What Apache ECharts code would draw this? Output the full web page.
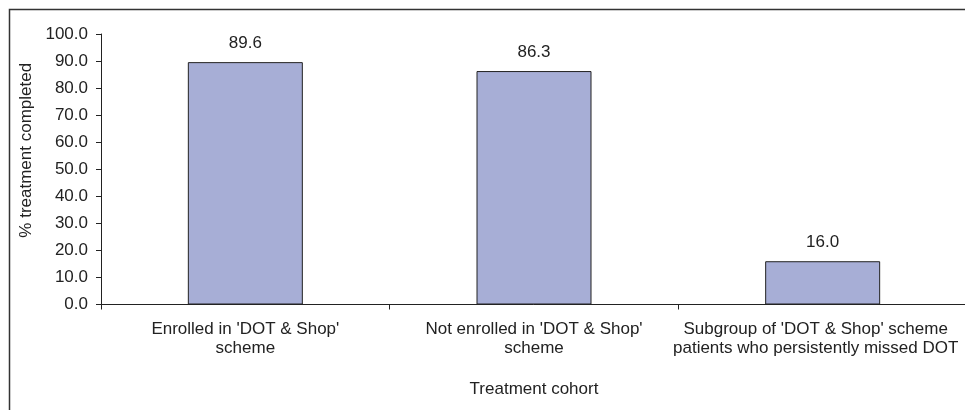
<!DOCTYPE html>
<html>
<head>
<meta charset="utf-8">
<script src="https://cdn.jsdelivr.net/npm/echarts@6/dist/echarts.min.js"></script>
<style>
  html, body { margin: 0; padding: 0; background: #fff; }
  #chart { width: 965px; height: 410px; }
</style>
</head>
<body>
<div id="chart"></div>
<script>
// Treatment completion by cohort
const categories = [
  "Enrolled in 'DOT & Shop'\nscheme",
  "Not enrolled in 'DOT & Shop'\nscheme",
  "Subgroup of 'DOT & Shop' scheme\npatients who persistently missed DOT"
];
const completedPct = [89.6, 86.3, 16.0];
const yTicks = { min: 0, max: 100, step: 10 };

const textColor = '#222';
const font = 'Liberation Sans, Arial, sans-serif';
const fs = 17;

// the last category label is nudged left so it stays inside the frame
const categoryData = categories.map((c, i) =>
  i === categories.length - 1 ? { value: c, textStyle: { padding: [0, 14, 0, 0] } } : c
);

const chart = echarts.init(document.getElementById('chart'), null, { renderer: 'canvas' });
chart.setOption({
  animation: false,
  backgroundColor: '#fff',
  graphic: [{
    type: 'rect',
    shape: { x: 9.5, y: 9.5, width: 1000, height: 500 },
    style: { fill: 'none', stroke: '#333', lineWidth: 1.5 },
    silent: true
  }],
  grid: { left: 101, top: 34, right: -2, bottom: 105.5, containLabel: false, outerBoundsMode: 'none' },
  xAxis: {
    type: 'category',
    data: categoryData,
    name: 'Treatment cohort',
    nameLocation: 'middle',
    nameGap: 76,
    nameTextStyle: { color: textColor, fontSize: fs, fontFamily: font },
    axisLine: { lineStyle: { color: '#222', width: 1 } },
    axisTick: { show: true, length: 5, alignWithLabel: false, lineStyle: { color: '#222' } },
    axisLabel: { color: textColor, fontSize: fs, fontFamily: font, margin: 15, lineHeight: 19, interval: 0 },
    splitLine: { show: false }
  },
  yAxis: {
    type: 'value',
    min: yTicks.min,
    max: yTicks.max,
    interval: yTicks.step,
    name: '% treatment completed',
    nameLocation: 'middle',
    nameGap: 64,
    nameTextStyle: { color: textColor, fontSize: fs, fontFamily: font, padding: [0, 0, 0, 38] },
    axisLine: { show: true, lineStyle: { color: '#222', width: 1 } },
    axisTick: { show: true, length: 5, lineStyle: { color: '#222' } },
    axisLabel: {
      color: textColor, fontSize: fs, fontFamily: font, margin: 13,
      formatter: v => v.toFixed(1)
    },
    splitLine: { show: false }
  },
  series: [{
    type: 'bar',
    data: completedPct,
    barWidth: 115,
    itemStyle: { color: '#a7aed6', borderColor: '#222', borderWidth: 1 },
    label: {
      show: true,
      position: 'top',
      distance: 10,
      color: textColor,
      fontSize: fs,
      fontFamily: font,
      formatter: p => p.value.toFixed(1)
    }
  }]
});
</script>
</body>
</html>
